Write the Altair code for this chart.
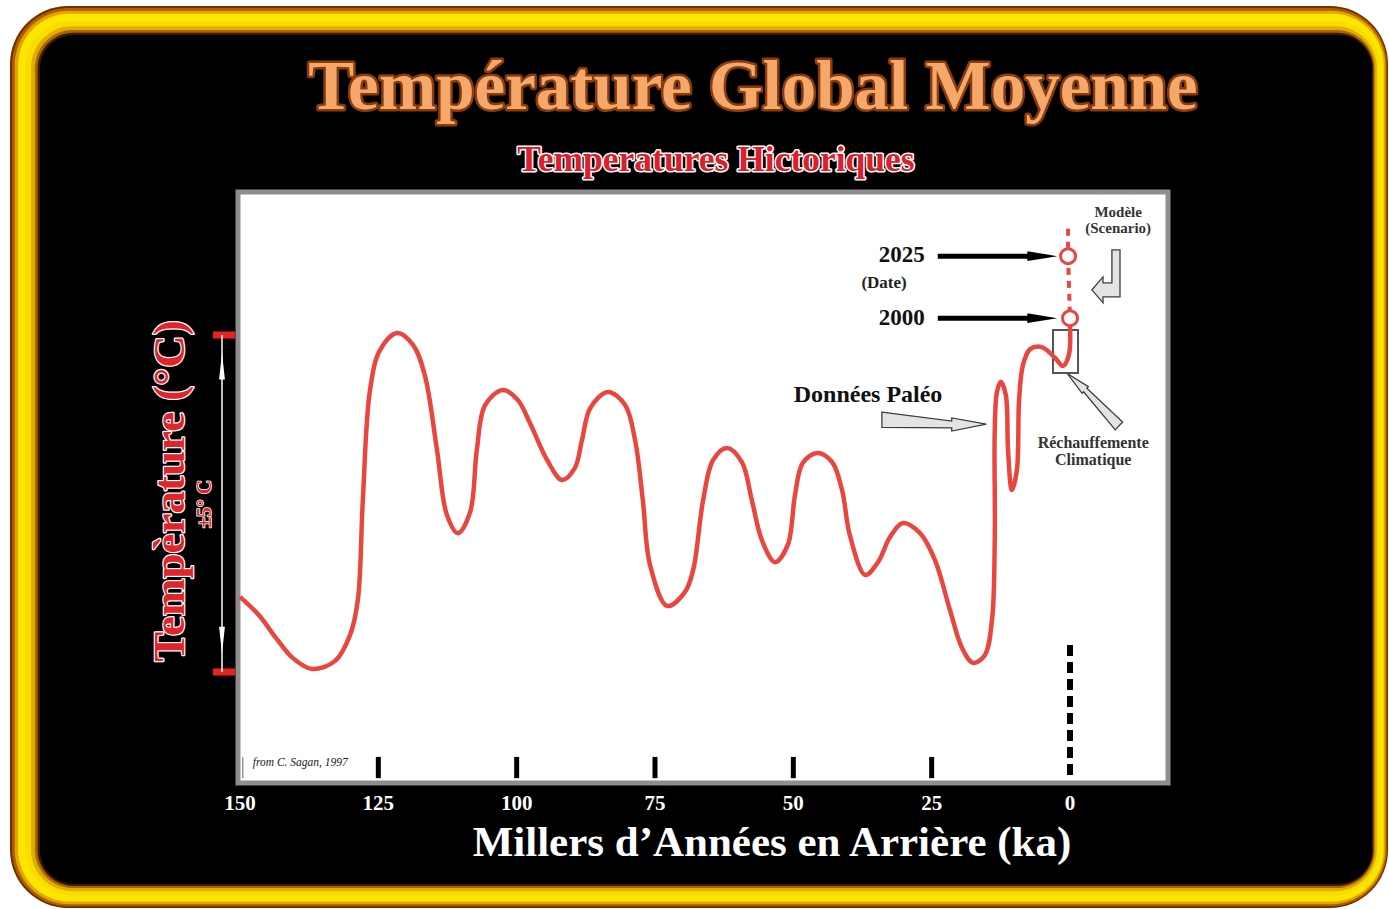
import altair as alt
import pandas as pd

SERIF = "Liberation Serif"
RED = "#e8473f"

# Reconstructed global temperature anomaly (degC) vs thousands of years before present.
# The record is a drawn trace: near 14-10 ka it folds back on itself, so points are kept in path order.
curve_ka = [150.0, 146.6, 143.5, 140.5, 137.0, 132.8, 130.1, 128.7, 127.8, 126.5, 124.7,
            121.6, 118.7, 116.6, 114.4, 112.6, 110.6, 108.4, 107.2, 105.7, 102.5,
            99.8, 97.6, 94.5, 91.8, 89.5, 88.2, 86.7, 83.5, 80.4, 78.6,
            77.2, 75.9, 72.8, 69.6, 68.1, 66.3, 64.5, 62.0, 59.3, 57.5,
            55.7, 53.3, 51.0, 49.7, 48.3, 45.7, 43.0, 41.2, 39.8, 37.0,
            34.7, 32.5, 30.2, 27.1, 24.4, 21.7, 19.5, 17.5, 15.4, 14.1,
            13.6, 13.6, 13.2, 12.5, 11.6, 11.2, 10.5, 9.6, 9.2, 8.5,
            7.2, 5.1, 2.7, 1.3, 0.2, 0.0]
curve_t = [-2.77, -3.31, -3.99, -4.58, -4.91, -4.67, -3.90, -2.86, 0.10, 3.37, 4.55,
           5.06, 4.70, 3.81, 1.59, -0.34, -0.88, -0.25, 1.59, 2.92, 3.37,
           3.07, 2.39, 1.29, 0.70, 1.05, 1.88, 2.83, 3.31, 2.92, 1.88,
           0.10, -1.82, -3.04, -2.63, -1.97, 0.10, 1.29, 1.65, 1.23, 0.10,
           -1.08, -1.74, -1.23, 0.25, 1.20, 1.50, 1.23, 0.40, -0.93, -2.12,
           -1.74, -0.99, -0.58, -0.88, -1.68, -3.16, -4.29, -4.73, -4.50, -3.46,
           -1.08, 2.18, 3.31, 3.61, 3.22, 1.59, 0.40, 0.99, 3.07, 4.11,
           4.58, 4.64, 4.32, 4.08, 4.41, 5.27]

# Model scenario: 2000 and 2025 markers and the dashed projection
scen_ka = [0.35, 0.35, 0.0]
scen_t = [8.15, 7.34, 5.50]
marker_label = ["2025", "2000"]
marker_ka = [0.35, 0.0]
marker_t = [7.34, 5.50]

# Axis ticks and labels
tick_ka = [150, 125, 100, 75, 50, 25, 0]
tick_labels = ["150", "125", "100", "75", "50", "25", "0"]
bar_ka = [125, 100, 75, 50, 25]
x_title = "Millers d\u2019Années en Arrière (ka)"

X_DOMAIN = [-17.71, 150.36]
Y_DOMAIN = [-8.294, 9.243]
W, H = 930, 591

xs = alt.Scale(domain=X_DOMAIN, reverse=True, nice=False, zero=False)
ys = alt.Scale(domain=Y_DOMAIN, nice=False, zero=False)


def X(field="ka"):
    return alt.X(f"{field}:Q", scale=xs, axis=None)


def Y(field="t"):
    return alt.Y(f"{field}:Q", scale=ys, axis=None)


one = pd.DataFrame({"k": [0]})
layers = []

# ---- rounded golden frame (pixel positions relative to the plot origin) ----
outer = (-228, -186, 1150, 716)
inner = (-198, -157, 1134, 692)
bands = [(0.00, "#6e3200"), (0.07, "#b05e00"), (0.16, "#e2a600"), (0.27, "#fce600"),
         (0.52, "#f8de00"), (0.70, "#e3ac00"), (0.83, "#a86600"), (0.92, "#3a1a00"),
         (1.00, "#000000")]
for f, col in bands:
    box = [o + f * (i - o) for o, i in zip(outer, inner)]
    r = 58 - f * 24
    layers.append(
        alt.Chart(one).mark_rect(color=col, cornerRadius=r).encode(
            x=alt.value(box[0]), x2=alt.value(box[2]),
            y=alt.value(box[1]), y2=alt.value(box[3]))
    )

# white plotting panel with grey edge
layers.append(
    alt.Chart(one).mark_rect(fill="white", stroke="#8e8e8e", strokeWidth=5).encode(
        x=alt.value(0), x2=alt.value(W), y=alt.value(0), y2=alt.value(H))
)

# tick bars at the foot of the panel
bars = pd.DataFrame({"ka": bar_ka, "t": [-7.52] * len(bar_ka), "t2": [-8.15] * len(bar_ka)})
layers.append(
    alt.Chart(bars).mark_rule(color="black", strokeWidth=5).encode(
        x=X(), y=Y("t"), y2="t2:Q")
)
edge = pd.DataFrame({"ka": [149.5], "t": [-7.52], "t2": [-8.15]})
layers.append(
    alt.Chart(edge).mark_rule(color="#9a9a9a", strokeWidth=1.5).encode(
        x=X(), y=Y("t"), y2="t2:Q")
)
zero = pd.DataFrame({"ka": [0.0], "t": [-4.2], "t2": [-8.15]})
layers.append(
    alt.Chart(zero).mark_rule(color="black", strokeWidth=6, strokeDash=[11, 6]).encode(
        x=X(), y=Y("t"), y2="t2:Q")
)

# x tick labels under the panel, placed through the x scale
ticks = pd.DataFrame({"ka": tick_ka, "label": tick_labels})
layers.append(
    alt.Chart(ticks).mark_text(font=SERIF, fontSize=21, fontWeight="bold", color="white",
                               align="center", baseline="middle").encode(
        x=X(), y=alt.value(612), text="label:N")
)

# box around the recent warming
box = pd.DataFrame({"ka": [3.07], "ka2": [-1.45], "t": [5.15], "t2": [3.87]})
layers.append(
    alt.Chart(box).mark_rect(fill=None, stroke="#555555", strokeWidth=2).encode(
        x=X(), x2="ka2:Q", y=Y(), y2="t2:Q")
)

# temperature trace
curve = pd.DataFrame({"ka": curve_ka, "t": curve_t, "i": range(len(curve_ka))})
layers.append(
    alt.Chart(curve).mark_line(color=RED, strokeWidth=4.5, interpolate="catmull-rom").encode(
        x=X(), y=Y(), order="i:Q")
)

# dashed scenario projection and markers
scen = pd.DataFrame({"ka": scen_ka, "t": scen_t, "i": range(len(scen_ka))})
layers.append(
    alt.Chart(scen).mark_line(color=RED, strokeWidth=4, strokeDash=[7, 6]).encode(
        x=X(), y=Y(), order="i:Q")
)
marks = pd.DataFrame({"ka": marker_ka, "t": marker_t})
layers.append(
    alt.Chart(marks).mark_point(shape="circle", filled=True, fill="white", stroke=RED,
                                strokeWidth=3, size=225, opacity=1).encode(x=X(), y=Y())
)

# black pointer arrows from the year labels
arr = pd.DataFrame({"ka": [23.9, 23.9], "ka2": [6.0, 6.0], "t": marker_t})
layers.append(
    alt.Chart(arr).mark_rule(color="black", strokeWidth=5).encode(x=X(), x2="ka2:Q", y=Y())
)
heads = pd.DataFrame({"ka": [5.0, 5.0], "t": marker_t})
layers.append(
    alt.Chart(heads).mark_point(shape="M-1,-0.33L1,0L-1,0.33Z", filled=True, color="black",
                                size=900, opacity=1).encode(x=X(), y=Y())
)

# hollow grey arrows
TAPER = "M-0.99,-0.18L0.34,-0.01L0.34,-0.07L1,0.05L0.34,0.18L0.34,0.12L-0.99,0.11Z"
ELBOW = "M0.22,-0.98L0.52,-0.98L0.52,0.76L-0.11,0.76L-0.11,0.98L-0.52,0.5L-0.11,0.02L-0.11,0.24L0.22,0.24Z"
garrows = pd.DataFrame({
    "ka": [24.6, -4.16, -6.5],
    "t": [2.43, 3.07, 6.74],
    "shape": ["taper", "taper2", "elbow"],
})
for name, shp, size, ang in [("taper", TAPER, 11025, 0), ("taper2", TAPER, 5476, 223),
                              ("elbow", ELBOW, 2916, 0)]:
    layers.append(
        alt.Chart(garrows[garrows["shape"] == name]).mark_point(
            shape=shp, filled=True, fill="#e4e4e4", stroke="#3c3c3c", strokeWidth=1.3,
            size=size, angle=ang, opacity=1).encode(x=X(), y=Y())
    )

# annotations inside the panel
ann = pd.DataFrame({
    "label": ["2025", "2000", "(Date)", "Données Paléo", "Modèle", "(Scenario)",
              "Réchauffemente", "Climatique"],
    "ka": [30.4, 30.4, 33.6, 36.5, -8.7, -8.7, -4.2, -4.2],
    "t": [7.37, 5.50, 6.54, 3.22, 8.65, 8.18, 1.80, 1.29],
    "size": [23, 23, 17, 24, 15, 15, 16, 16],
    "color": ["#111111", "#111111", "#222222", "#111111", "#333333", "#333333",
              "#333333", "#333333"],
})
for sz in sorted(set(ann["size"])):
    sub = ann[ann["size"] == sz]
    layers.append(
        alt.Chart(sub).mark_text(
            font=SERIF, fontSize=sz, fontWeight="bold", color=sub["color"].iloc[0],
            align="center", baseline="middle").encode(x=X(), y=Y(), text="label:N")
    )
credit = pd.DataFrame({"label": ["from C. Sagan, 1997"], "ka": [147.7], "t": [-7.70]})
layers.append(
    alt.Chart(credit).mark_text(font=SERIF, fontSize=11.5, fontStyle="italic", color="#222222",
                                align="left", baseline="middle").encode(
        x=X(), y=Y(), text="label:N")
)

# +-5 degC bracket on the left of the panel
bracket = pd.DataFrame({"t": [5.0, -5.0]})
layers.append(
    alt.Chart(bracket).mark_rule(color="#e8231f", strokeWidth=7).encode(
        x=alt.value(-25), x2=alt.value(-3), y=Y())
)
span = pd.DataFrame({"t": [5.0], "t2": [-5.0]})
layers.append(
    alt.Chart(span).mark_rule(color="white", strokeWidth=1.5).encode(
        x=alt.value(-16), y=Y(), y2="t2:Q")
)
tips = pd.DataFrame({"t": [4.07, -4.05], "ang": [0, 180]})
layers.append(
    alt.Chart(tips).mark_point(shape="M0,-1L0.22,1L-0.22,1Z", filled=True, color="white",
                               size=700, opacity=1).encode(
        x=alt.value(-16), y=Y(), angle=alt.Angle("ang:Q", scale=None))
)


def outlined(text, x, y, size, fill, stroke, sw, angle=0):
    df = pd.DataFrame({"label": [text]})
    common = dict(font=SERIF, fontSize=size, fontWeight="bold", align="center",
                  baseline="middle", angle=angle)
    back = alt.Chart(df).mark_text(fill=stroke, stroke=stroke, strokeWidth=sw,
                                   strokeJoin="round", **common).encode(
        x=alt.value(x), y=alt.value(y), text="label:N")
    front = alt.Chart(df).mark_text(fill=fill, **common).encode(
        x=alt.value(x), y=alt.value(y), text="label:N")
    return [back, front]


layers += outlined("Température Global Moyenne", 515, -104, 69, "#f6a86a", "#8a3c0c", 5)
layers += outlined("Temperatures Hictoriques", 478, -32, 35.5, "#dc1f2c", "white", 3)
layers += outlined("Tempèrature (°C)", -68, 299, 45, "#e3232a", "white", 2.5, angle=270)
layers += outlined("±5° C", -33, 312, 20, "#e3232a", "white", 1.5, angle=270)

# x-axis title
xt = pd.DataFrame({"label": [x_title]})
layers.append(
    alt.Chart(xt).mark_text(font=SERIF, fontSize=43, fontWeight="bold", color="white",
                            align="center", baseline="middle").encode(
        x=alt.value(534), y=alt.value(651), text="label:N")
)

chart = alt.layer(*layers).properties(
    width=W, height=H,
    padding={"left": 238, "top": 192, "right": 221, "bottom": 126},
    autosize=alt.AutoSizeParams(type="none"),
    background="white",
).configure_view(stroke=None)

chart.save("out.html", embed_options={"renderer": "svg", "actions": False})
